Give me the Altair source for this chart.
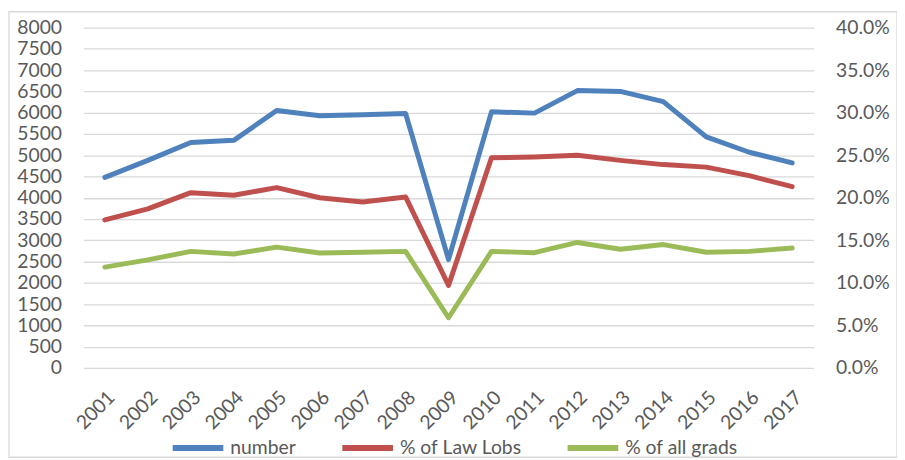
import altair as alt
import pandas as pd

years = [str(y) for y in range(2001, 2018)]
number = [4480, 4880, 5300, 5350, 6050, 5930, 5950, 5980, 2550, 6020, 5990,
          6520, 6500, 6260, 5430, 5070, 4820]
pct_law = [17.4, 18.7, 20.6, 20.3, 21.2, 20.0, 19.5, 20.1, 9.7, 24.7, 24.8,
           25.0, 24.4, 23.9, 23.6, 22.6, 21.3]
pct_all = [11.85, 12.7, 13.7, 13.4, 14.2, 13.5, 13.6, 13.7, 5.9, 13.7, 13.55,
           14.75, 13.95, 14.5, 13.6, 13.7, 14.1]

series_names = ["number", "% of Law Lobs", "% of all grads"]
colors = ["#4F81BD", "#C0504D", "#9BBB59"]
left_ticks = list(range(0, 8001, 500))
right_ticks = [i * 0.05 for i in range(9)]

rows = []
for i, yr in enumerate(years):
    rows.append({"year": yr, "series": "number", "value": number[i]})
    rows.append({"year": yr, "series": "% of Law Lobs", "value": pct_law[i] / 100})
    rows.append({"year": yr, "series": "% of all grads", "value": pct_all[i] / 100})
df = pd.DataFrame(rows)

FONT = "Lato"
TXT = "#595959"
GRID = "#d9d9d9"
FS = 19.5

x = alt.X("year:O", sort=years, scale=alt.Scale(type="point", padding=0.5),
          axis=alt.Axis(title=None, labelAngle=-45, domain=False, ticks=False, grid=False,
                        labelFontSize=FS, labelColor=TXT, labelFont=FONT, labelPadding=20))

color = alt.Color("series:N", scale=alt.Scale(domain=series_names, range=colors),
                  legend=alt.Legend(title=None, orient="none", legendX=87, legendY=395,
                                    direction="horizontal", symbolType="stroke",
                                    symbolSize=2601, symbolStrokeWidth=6,
                                    labelFontSize=FS, labelFont=FONT, labelColor=TXT,
                                    columnPadding=34, labelOffset=4))

line_kw = dict(strokeWidth=5, strokeCap="round", strokeJoin="round")

left = alt.Chart(df).transform_filter(alt.datum.series == "number").mark_line(**line_kw).encode(
    x=x,
    y=alt.Y("value:Q", scale=alt.Scale(domain=[0, 8000], nice=False),
            axis=alt.Axis(title=None, orient="left", values=left_ticks, format="d", grid=True,
                          gridColor=GRID, gridWidth=1.3, domain=False, ticks=False,
                          labelPadding=22, labelFontSize=FS, labelFont=FONT,
                          labelColor=TXT)),
    color=color,
)

right = alt.Chart(df).transform_filter(alt.datum.series != "number").mark_line(**line_kw).encode(
    x=x,
    y=alt.Y("value:Q", scale=alt.Scale(domain=[0, 0.4], nice=False),
            axis=alt.Axis(title=None, orient="right", values=right_ticks, format=".1%",
                          grid=False, domain=False, ticks=False, labelPadding=22,
                          labelFontSize=FS, labelFont=FONT, labelColor=TXT)),
    color=color,
)

frame = alt.Chart(pd.DataFrame({"a": [0]})).mark_rect(fill=None, stroke=GRID, strokeWidth=1.3).encode(
    x=alt.value(-75), x2=alt.value(820), y=alt.value(-16), y2=alt.value(433)
)

chart = alt.layer(frame, left, right).resolve_scale(y="independent").properties(
    width=736, height=343,
    autosize=alt.AutoSizeParams(type="none"),
    padding={"left": 76, "top": 18, "right": 84, "bottom": 89},
).configure_view(stroke=None)

chart.save("out.html", embed_options={"renderer": "svg", "actions": False})
